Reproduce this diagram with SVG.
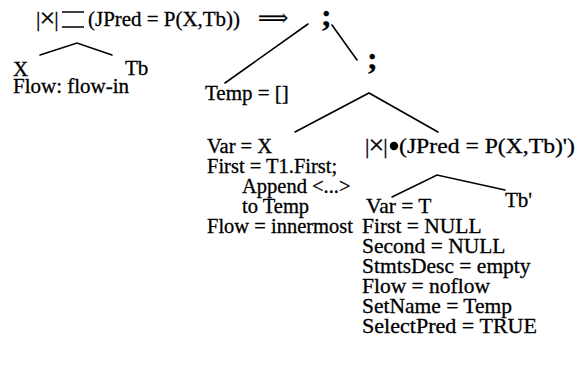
<svg xmlns="http://www.w3.org/2000/svg" width="579" height="370" viewBox="0 0 579 370">
  <style>
    text { font-family: "Liberation Serif", "Times New Roman", serif; font-size: 21px; fill: #000; stroke: #000; stroke-width: 0.3; }
    .col { font-size: 20.5px; }
    .wide { font-size: 21.5px; }
    .semi { font-size: 32px; font-weight: bold; }
    .op { font-size: 22px; }
    .x { font-size: 28px; }
    .edge { stroke: #000; stroke-width: 1.6; fill: none; stroke-linecap: round; }
    .sym { stroke: #000; stroke-width: 1.6; fill: none; }
  </style>
  <rect width="579" height="370" fill="#fff"/>

  <!-- tree edges -->
  <g id="connectors">
    <polyline class="edge" points="40,55 77,43 112,55"/>
    <line class="edge" x1="308" y1="24" x2="225" y2="83"/>
    <line class="edge" x1="332" y1="25" x2="357" y2="60"/>
    <polyline class="edge" points="295,132 369,93 438,132"/>
    <polyline class="edge" points="392,197 437,175 505,190"/>
  </g>

  <!-- original join expression -->
  <g id="join-original">
    <text class="op" x="36" y="26" letter-spacing="-1">|<tspan class="x" dy="1">×</tspan><tspan dy="-1">|</tspan></text>
    <path class="sym" d="M62,12 H84 M62,27 H84"/>
    <text x="88" y="26" textLength="152" lengthAdjust="spacingAndGlyphs">(JPred = P(X,Tb))</text>
    <text x="258" y="25" style="font-family:'DejaVu Serif',serif" stroke-width="0">⟹</text>
  </g>
  <g id="leaf-x">
    <text x="13" y="76">X</text>
    <text x="13" y="93">Flow: flow-in</text>
  </g>
  <g id="leaf-tb">
    <text x="125" y="75">Tb</text>
  </g>

  <!-- rewritten plan -->
  <g id="seq-top">
    <text class="semi" x="321" y="26">;</text>
  </g>
  <g id="temp-init">
    <text x="205" y="100">Temp = []</text>
  </g>
  <g id="seq-inner">
    <text class="semi" x="367" y="69">;</text>
  </g>
  <g id="scan-x">
    <text class="col" x="207" y="153">Var = X</text>
    <text class="col" x="207" y="173">First = T1.First;</text>
    <text class="col" x="242" y="193">Append &lt;...&gt;</text>
    <text class="col" x="242" y="213">to Temp</text>
    <text class="col" x="207" y="233">Flow = innermost</text>
  </g>
  <g id="join-rewritten">
    <text class="op" x="365" y="153" letter-spacing="-1">|<tspan class="x" dy="1">×</tspan><tspan dy="-1">|</tspan></text>
    <circle cx="394" cy="146" r="4.2" fill="#000"/>
    <text x="399" y="153" textLength="176" lengthAdjust="spacingAndGlyphs">(JPred = P(X,Tb)')</text>
  </g>
  <g id="scan-temp">
    <text class="wide" x="366" y="213">Var = T</text>
    <text class="wide" x="362" y="233">First = NULL</text>
    <text class="wide" x="362" y="253">Second = NULL</text>
    <text class="wide" x="362" y="273">StmtsDesc = empty</text>
    <text class="wide" x="362" y="293">Flow = noflow</text>
    <text class="wide" x="362" y="313">SetName = Temp</text>
    <text class="wide" x="362" y="333" textLength="175" lengthAdjust="spacingAndGlyphs">SelectPred = TRUE</text>
  </g>
  <g id="leaf-tb-prime">
    <text x="505" y="207">Tb'</text>
  </g>
</svg>
